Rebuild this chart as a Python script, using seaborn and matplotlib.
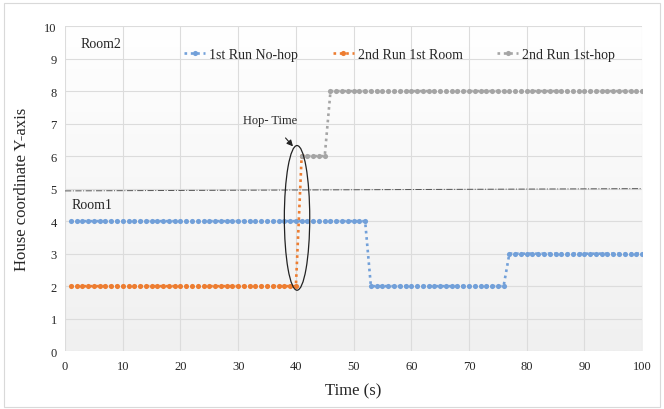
import numpy as np
import pandas as pd
import matplotlib
matplotlib.use("Agg")
import matplotlib.pyplot as plt
from matplotlib.colors import LinearSegmentedColormap
from matplotlib.patches import Ellipse, Rectangle
import seaborn as sns

# values
run1_time = list(range(1, 101))
run1_y = [4] * 52 + [2] * 24 + [3] * 24

room_time = list(range(1, 42))
room_y = [2] * 40 + [6]

hop_time = list(range(41, 101))
hop_y = [6] * 5 + [8] * 55

boundary_x = [0, 100]
boundary_y = [4.93, 5.0]

series_names = ["1st Run No-hop", "2nd Run 1st Room", "2nd Run 1st-hop"]
colors = ["#72a0d9", "#ed7d31", "#a5a5a5"]


def main():
    sns.set_style("white")
    plt.rcParams["font.family"] = ["Liberation Serif", "DejaVu Serif"]

    fig = plt.figure(figsize=(6.64, 4.10), dpi=100)
    ax = fig.add_axes([0.098, 0.141, 0.869, 0.793])

    # soft vertical gradient in the plot area (white at top, light grey at bottom)
    bg = LinearSegmentedColormap.from_list("bg", ["#ffffff", "#f0f0f0"])
    grad = np.linspace(0, 1, 256).reshape(-1, 1)
    ax.imshow(grad, extent=[0, 100, 0, 10], aspect="auto", cmap=bg,
              origin="upper", zorder=0)

    data = [(run1_time, run1_y), (room_time, room_y), (hop_time, hop_y)]
    for (t, y), name, c in zip(data, series_names, colors):
        df = pd.DataFrame({"Time": t, "Y": y})
        sns.lineplot(data=df, x="Time", y="Y", ax=ax, color=c, label=name,
                     linestyle=(0, (1, 1.4)), linewidth=1.9, marker="o",
                     markersize=3.7, markeredgewidth=0, zorder=3)

    ax.plot(boundary_x, boundary_y, color="#555555", linestyle="-.",
            linewidth=0.7, zorder=2)

    ax.set_xlim(0, 100)
    ax.set_ylim(0, 10)
    ax.set_xticks(range(0, 101, 10))
    ax.set_yticks(range(0, 11))
    ax.grid(True, color="#dcdcdc", linewidth=0.8)
    for s in ax.spines.values():
        s.set_visible(False)
    ax.tick_params(length=0, labelsize=9, pad=6)

    ax.set_xlabel("Time (s)", fontsize=12, labelpad=8)
    ax.set_ylabel("House coordinate Y-axis", fontsize=12, labelpad=10)

    ax.text(2.6, 9.45, "Room2", fontsize=10, va="center")
    ax.text(1.2, 4.5, "Room1", fontsize=10, va="center")

    ax.add_patch(Ellipse((40.2, 4.1), 4.4, 4.45, fill=False,
                         edgecolor="#222222", linewidth=0.9, zorder=4))
    ax.annotate("Hop- Time", xy=(39.5, 6.3), xytext=(35.5, 7.1),
                fontsize=9, ha="center", va="center",
                arrowprops=dict(arrowstyle="-|>", color="#222222", lw=0.8,
                                shrinkA=8, shrinkB=0))

    ax.legend(loc="center", bbox_to_anchor=(0.58, 0.914), ncol=3,
              frameon=False, fontsize=10, handlelength=1.5,
              columnspacing=2.5, handletextpad=0.3)

    fig.patches.append(Rectangle((0.006, 0.005), 0.988, 0.985,
                                 transform=fig.transFigure, fill=False,
                                 edgecolor="#d9d9d9", linewidth=0.8))

    fig.savefig("out.png", dpi=100)
    plt.close(fig)


if __name__ == "__main__":
    main()
